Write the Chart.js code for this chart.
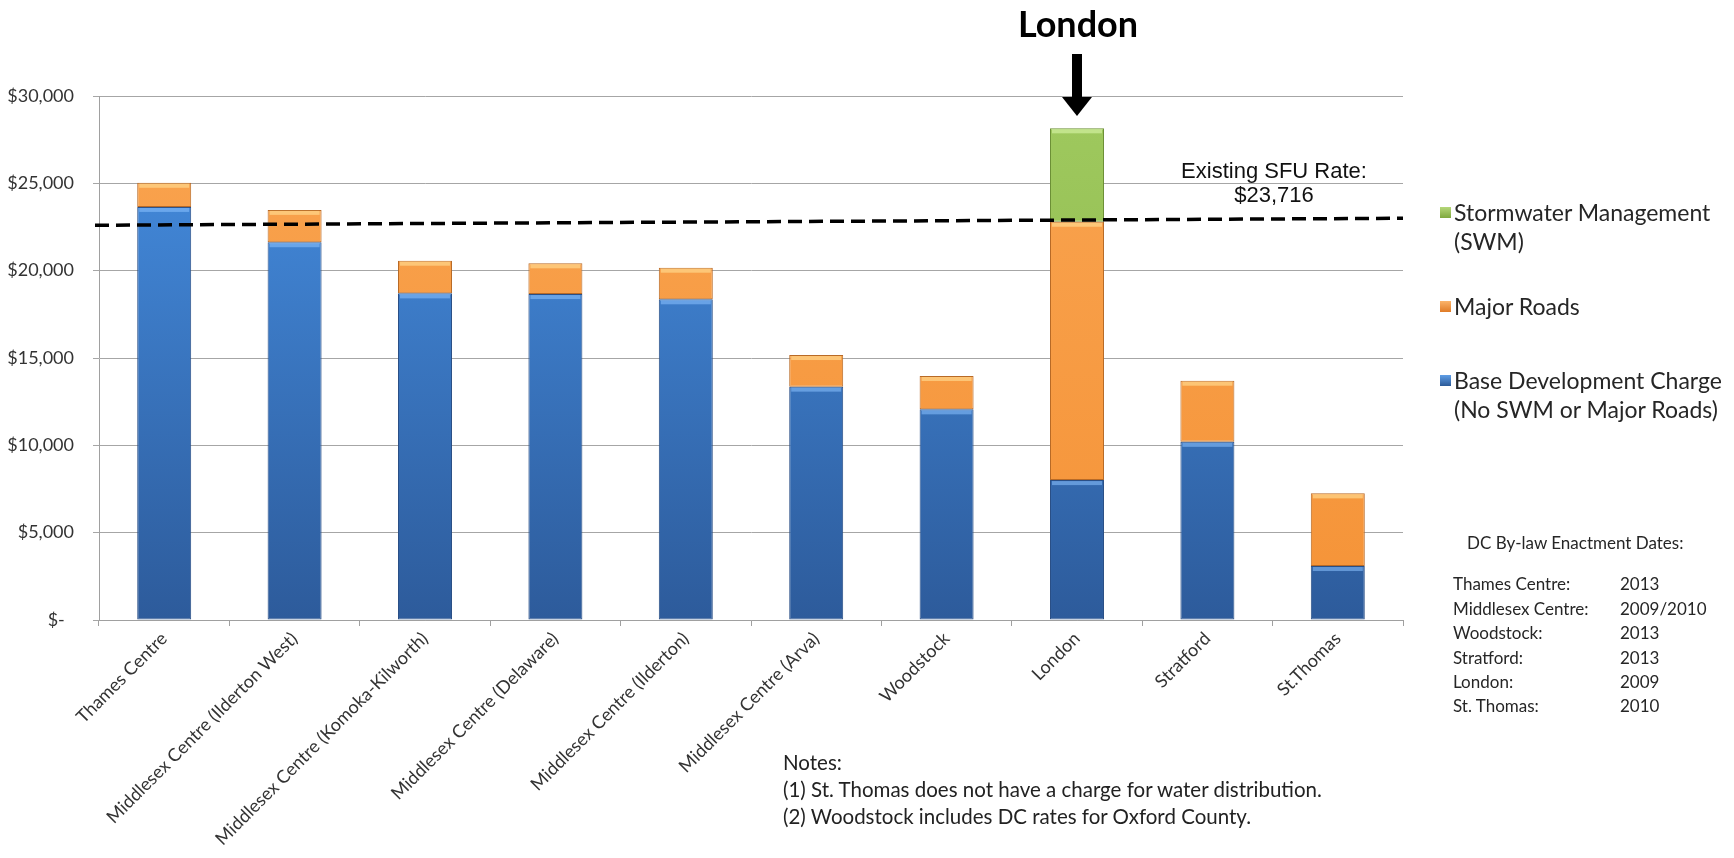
<!DOCTYPE html>
<html>
<head>
<meta charset="utf-8">
<script src="https://cdn.jsdelivr.net/npm/chart.js@4.4.1/dist/chart.umd.min.js"></script>
<style>
  html, body { margin: 0; padding: 0; background: #fff; }
  #wrap { position: relative; width: 1734px; height: 858px; font-family: Lato, "Open Sans", sans-serif; color: #262626; }
  #wrap canvas { position: absolute; left: 0; top: 0; }
  .txt { position: absolute; white-space: nowrap; }
  #title { left: 978px; width: 200px; top: 3px; text-align: center; font-size: 36px; font-weight: bold; line-height: 40px; color: #000; }
  #sfu { left: 1144px; width: 260px; top: 159px; text-align: center; font-family: "Liberation Sans", Arial, sans-serif; font-size: 22px; line-height: 24px; color: #111; }
  .leg { position: absolute; left: 1440px; font-size: 23px; line-height: 29px; }
  .leg i { position: absolute; left: 0; top: 9px; width: 11px; height: 11px; }
  .leg span { display: block; padding-left: 14px; }
  #dates { left: 1453px; top: 531px; font-size: 17px; line-height: 24.4px; }
  #dates .head { padding-left: 14px; margin-bottom: 17px; }
  #dates td { padding: 0; }
  #dates td.pl { width: 167px; }
  #notes { left: 783px; top: 749px; font-size: 20.5px; line-height: 27px; color: #222; }
</style>
</head>
<body>
<div id="wrap">
  <canvas id="chart"></canvas>
  <div class="txt" id="title">London</div>
  <div class="txt" id="sfu">Existing SFU Rate:<br>$23,716</div>
  <div class="leg" style="top:198px"><i style="background:linear-gradient(#b5d77a,#7fa83e)"></i><span>Stormwater Management<br>(SWM)</span></div>
  <div class="leg" style="top:292px"><i style="background:linear-gradient(#fbb46b,#e07b26)"></i><span>Major Roads</span></div>
  <div class="leg" style="top:366px"><i style="background:linear-gradient(#5f9ee6,#2c5a98)"></i><span>Base Development Charge<br>(No SWM or Major Roads)</span></div>
  <div class="txt" id="dates">
    <div class="head">DC By-law Enactment Dates:</div>
    <table cellspacing="0" id="datesTable"></table>
  </div>
  <div class="txt" id="notes"></div>
</div>
<script>
// chart data
const categories = ["Thames Centre", "Middlesex Centre (Ilderton West)", "Middlesex Centre (Komoka-Kilworth)",
    "Middlesex Centre (Delaware)", "Middlesex Centre (Ilderton)", "Middlesex Centre (Arva)",
    "Woodstock", "London", "Stratford", "St.Thomas"];
const baseCharge = [23650, 21630, 18700, 18660, 18360, 13360, 12060, 8010, 10200, 3090];
const majorRoads = [1380, 1850, 1870, 1760, 1810, 1810, 1910, 14790, 3500, 4160];
const stormwater = [null, null, null, null, null, null, null, 5350, null, null];
const yTicks = [0, 5000, 10000, 15000, 20000, 25000, 30000];
// dashed "existing SFU rate" line, value at left and right end as drawn
const sfuLine = [22600, 23000];

const enactPlaces = ["Thames Centre:", "Middlesex Centre:", "Woodstock:", "Stratford:", "London:", "St. Thomas:"];
const enactYears = ["2013", "2009/2010", "2013", "2013", "2009", "2010"];
const notes = ["Notes:", "(1) St. Thomas does not have a charge for water distribution.",
    "(2) Woodstock includes DC rates for Oxford County."];

document.getElementById("datesTable").innerHTML = enactPlaces.map((p, i) =>
    `<tr><td class="pl">${p}</td><td>${enactYears[i]}</td></tr>`).join("");
document.getElementById("notes").innerHTML = notes.join("<br>");

function grad(ctx, top, bottom){
    const area = ctx.chart.chartArea;
    if(!area) return bottom;
    const g = ctx.chart.ctx.createLinearGradient(0, area.top, 0, area.bottom);
    g.addColorStop(0, top);
    g.addColorStop(1, bottom);
    return g;
}

const extras = {
    id: "extras",
    afterDatasetsDraw(chart){
        const c = chart.ctx, a = chart.chartArea, y = chart.scales.y, x = chart.scales.x;
        // light bevel on top of each segment
        chart.data.datasets.forEach((ds, di) => {
            chart.getDatasetMeta(di).data.forEach((bar, i) => {
                if(ds.data[i] == null) return;
                const w = bar.width;
                c.save();
                c.fillStyle = ds.bevel;
                c.fillRect(bar.x - w/2 + 2, bar.y + 1, w - 4, 4);
                c.restore();
            });
        });
        // dashed rate line
        c.save();
        c.strokeStyle = "#000";
        c.lineWidth = 3.5;
        c.setLineDash([14, 7]);
        c.beginPath();
        c.moveTo(a.left - 4, y.getPixelForValue(sfuLine[0]));
        c.lineTo(a.right, y.getPixelForValue(sfuLine[1]));
        c.stroke();
        c.restore();
        // arrow pointing at London
        const ax = x.getPixelForValue(categories.indexOf("London"));
        c.save();
        c.fillStyle = "#000";
        c.fillRect(ax - 5, 54, 10, 44);
        c.beginPath();
        c.moveTo(ax - 15, 97);
        c.lineTo(ax + 15, 97);
        c.lineTo(ax, 116);
        c.closePath();
        c.fill();
        c.restore();
    }
};

const tickFont = {family: "Lato, 'Open Sans', sans-serif", size: 18};

new Chart(document.getElementById("chart"), {
    type: "bar",
    data: {
        labels: categories,
        datasets: [
            {label: "Base Development Charge", data: baseCharge,
             backgroundColor: ctx => grad(ctx, "#4690e4", "#2d5b9b"), borderColor: "#2a4f86", bevel: "rgba(140,195,255,0.55)"},
            {label: "Major Roads", data: majorRoads,
             backgroundColor: ctx => grad(ctx, "#f9a450", "#f59337"), borderColor: "#b86a26", bevel: "rgba(255,215,140,0.7)"},
            {label: "Stormwater Management (SWM)", data: stormwater,
             backgroundColor: ctx => grad(ctx, "#9fc95e", "#8ab54a"), borderColor: "#6c9036", bevel: "rgba(210,240,160,0.7)"}
        ]
    },
    options: {
        responsive: true,
        maintainAspectRatio: false,
        animation: false,
        layout: {padding: {left: 0, right: 331, top: 96, bottom: 0}},
        datasets: {bar: {categoryPercentage: 1, barPercentage: 0.414, borderWidth: 1, borderSkipped: false}},
        plugins: {legend: {display: false}, tooltip: {enabled: false}},
        scales: {
            x: {
                stacked: true,
                grid: {display: true, drawOnChartArea: false, drawTicks: true, tickLength: 6, offset: true, color: "#a0a0a0"},
                border: {display: true, color: "#a0a0a0"},
                ticks: {autoSkip: false, maxRotation: 45, minRotation: 45, padding: 2, color: "#333", font: tickFont},
                afterFit: s => { s.height = 238; }
            },
            y: {
                stacked: true,
                min: 0, max: 30000,
                afterBuildTicks: s => { s.ticks = yTicks.map(v => ({value: v})); },
                grid: {color: "#a6a6a6", tickLength: 6, drawTicks: true},
                border: {display: true, color: "#a0a0a0"},
                ticks: {padding: 19, color: "#333", font: tickFont,
                    callback: v => v === 0 ? "$-  " : "$" + v.toLocaleString("en-US")},
                afterFit: s => { s.width = 99; }
            }
        }
    },
    plugins: [extras]
});
</script>
</body>
</html>
